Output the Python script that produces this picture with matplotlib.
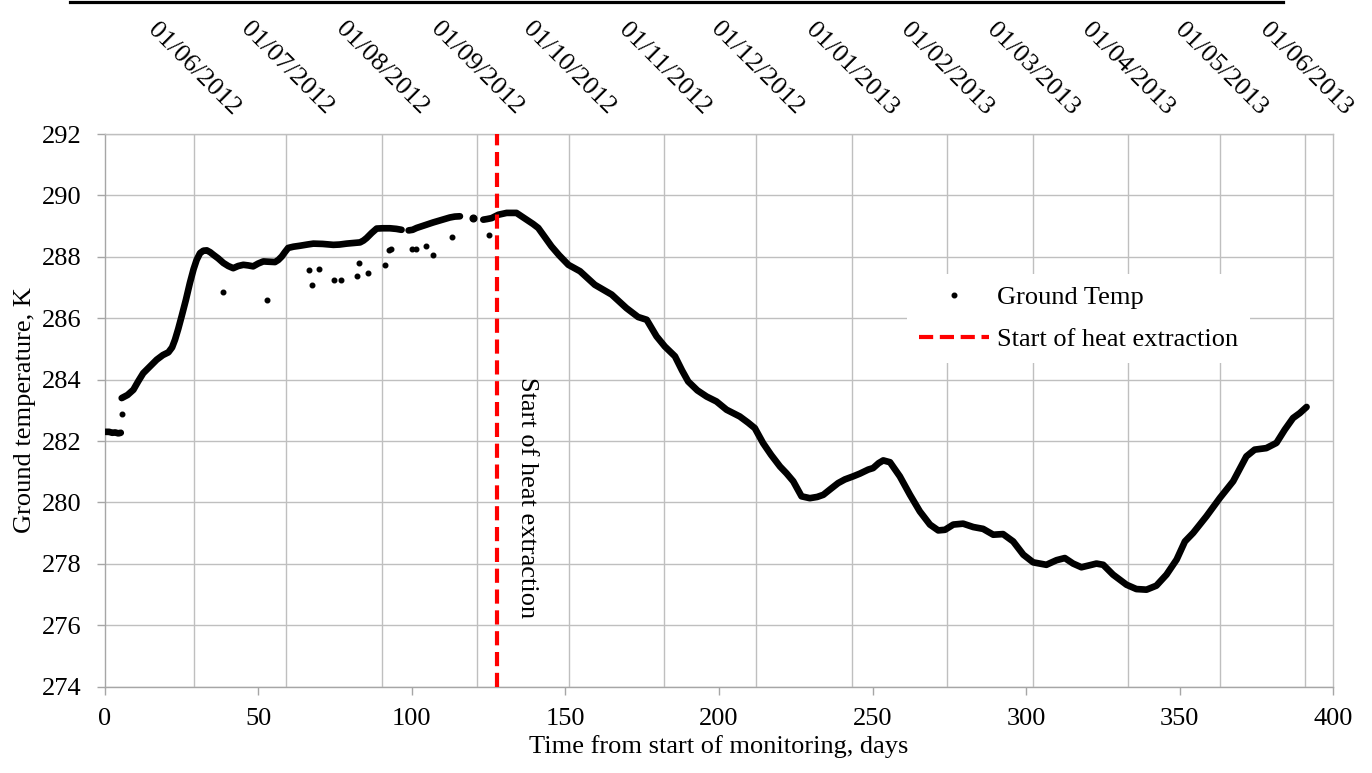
import numpy as np
import matplotlib
matplotlib.use("Agg")
import matplotlib.pyplot as plt
from matplotlib.lines import Line2D
from matplotlib.transforms import blended_transform_factory

plt.rcParams['font.family'] = ['Liberation Serif', 'DejaVu Serif']

# ---- data: ground temperature record (days from start, kelvin) ----
days_start = [0.3, 1.5, 2.5, 3.5, 4.5, 5.3]
temp_start = [282.30, 282.30, 282.27, 282.28, 282.25, 282.27]

days_summer = [5.6, 7.5, 9.4, 11.0, 12.6, 15.0, 17.0, 19.0, 20.8, 22.0, 22.95, 24.0,
               25.1, 26.5, 27.8, 29.0, 30.0, 31.1, 32.2, 33.3, 34.4, 35.4, 37.0, 38.7,
               40.3, 41.9, 43.5, 45.2, 46.8, 48.4, 50.0, 51.7, 53.5, 55.5, 56.6, 57.7,
               58.7, 59.8, 61.5, 63.6, 66.0, 68.0, 71.0, 74.5, 76.5, 78.8, 81.0, 83.2,
               84.3, 85.3, 87.0, 88.6, 90.5, 92.9, 95.0, 96.7]
temp_summer = [283.40, 283.50, 283.67, 283.95, 284.21, 284.45, 284.65, 284.80, 284.89,
               285.05, 285.30, 285.65, 286.06, 286.60, 287.15, 287.60, 287.90, 288.12,
               288.20, 288.21, 288.15, 288.07, 287.95, 287.80, 287.70, 287.63, 287.70,
               287.74, 287.72, 287.69, 287.78, 287.85, 287.84, 287.83, 287.90, 288.01,
               288.15, 288.29, 288.33, 288.36, 288.40, 288.43, 288.42, 288.39, 288.40,
               288.43, 288.45, 288.47, 288.53, 288.61, 288.78, 288.92, 288.93, 288.93,
               288.91, 288.88]

days_autumn = [99.0, 100.3, 101.6, 104.3, 107.0, 109.7, 112.4, 114.0, 115.7]
temp_autumn = [288.86, 288.88, 288.94, 289.03, 289.12, 289.20, 289.28, 289.31, 289.32]

days_lone = [120.0]
temp_lone = [289.26]

days_extract = [123.3, 124.5, 126.0, 128.2, 130.9, 134.1, 137.4, 139.5, 141.2, 143.5,
                145.5, 148.0, 151.0, 154.8, 159.6, 165.1, 169.9, 173.7, 176.5, 179.7,
                182.4, 185.7, 188.0, 190.0, 193.0, 196.0, 199.2, 202.5, 206.8, 209.5,
                211.7, 214.4, 217.0, 219.9, 222.0, 224.2, 226.9, 229.6, 232.0, 234.0,
                236.5, 238.8, 241.0, 243.7, 245.9, 248.6, 250.2, 252.0, 253.5, 255.7,
                258.9, 262.2, 265.4, 268.7, 271.4, 273.6, 276.3, 279.5, 282.8, 286.0,
                289.3, 292.5, 295.8, 299.1, 302.3, 306.6, 309.9, 312.6, 315.3, 318.0,
                320.5, 322.9, 325.1, 328.3, 332.7, 335.9, 339.2, 342.4, 345.7, 349.0,
                351.7, 354.4, 358.7, 363.1, 367.4, 371.7, 374.4, 378.2, 381.5, 384.2,
                386.9, 389.1, 391.3]
temp_extract = [289.21, 289.23, 289.26, 289.37, 289.43, 289.43, 289.21, 289.07, 288.94,
                288.62, 288.34, 288.05, 287.74, 287.53, 287.09, 286.77, 286.33, 286.04,
                285.95, 285.41, 285.08, 284.76, 284.30, 283.94, 283.65, 283.45, 283.29,
                283.02, 282.80, 282.60, 282.42, 281.93, 281.55, 281.17, 280.95, 280.69,
                280.20, 280.14, 280.18, 280.25, 280.45, 280.63, 280.75, 280.85, 280.94,
                281.07, 281.12, 281.28, 281.37, 281.31, 280.85, 280.25, 279.71, 279.28,
                279.09, 279.11, 279.28, 279.31, 279.20, 279.14, 278.95, 278.97, 278.73,
                278.30, 278.05, 277.97, 278.12, 278.19, 278.01, 277.89, 277.95, 278.01,
                277.97, 277.65, 277.32, 277.18, 277.16, 277.29, 277.65, 278.14, 278.73,
                279.01, 279.55, 280.15, 280.69, 281.50, 281.72, 281.77, 281.94, 282.37,
                282.75, 282.91, 283.11]

# scattered single readings below the main trend
days_scatter = [5.6, 38.7, 53.0, 66.7, 67.5, 69.7, 74.7, 76.9, 82.1, 82.9, 85.9, 91.3,
                92.7, 93.1, 100.0, 101.3, 104.6, 106.8, 113.0, 125.0]
temp_scatter = [282.88, 286.84, 286.59, 287.56, 287.09, 287.60, 287.25, 287.25, 287.38,
                287.80, 287.47, 287.72, 288.21, 288.25, 288.26, 288.26, 288.34, 288.05,
                288.63, 288.72]

heat_start_day = 127.8

# month boundaries along the time axis and their calendar labels
month_days = [29.2, 59.2, 90.2, 121.2, 151.2, 182.2, 212.2, 243.2, 274.2, 302.2,
              333.2, 363.2, 390.9]
month_labels = ['01/06/2012', '01/07/2012', '01/08/2012', '01/09/2012', '01/10/2012',
                '01/11/2012', '01/12/2012', '01/01/2013', '01/02/2013', '01/03/2013',
                '01/04/2013', '01/05/2013', '01/06/2013']

x_ticks = [0, 50, 100, 150, 200, 250, 300, 350, 400]
y_ticks = [274, 276, 278, 280, 282, 284, 286, 288, 290, 292]

# ---- figure ----
W, H = 1372, 773
fig = plt.figure(figsize=(W / 100, H / 100), dpi=100)
ax = fig.add_axes([104.5 / W, 1 - 686.7 / H, (1333.3 - 104.5) / W, (686.7 - 134.0) / H])

grid_c = '#BFBFBF'
axis_c = '#A6A6A6'
FS = 19

ax.set_xlim(0, 400)
ax.set_ylim(274, 292)
ax.set_xticks(x_ticks)
ax.set_yticks(y_ticks)
ax.set_xticks(month_days, minor=True)
ax.grid(which='minor', axis='x', color=grid_c, lw=1.0)
ax.grid(which='major', axis='y', color=grid_c, lw=1.0)
ax.grid(which='major', axis='x', visible=False)
ax.set_axisbelow(True)

for side in ['left', 'bottom', 'top', 'right']:
    ax.spines[side].set_color(grid_c if side in ('top', 'right') else axis_c)
    ax.spines[side].set_linewidth(1.0)

ax.tick_params(axis='both', which='major', direction='out', length=5.5, width=1.0,
               color=axis_c, labelsize=FS, labelcolor='black')
ax.tick_params(axis='x', which='major', pad=10)
ax.tick_params(axis='y', which='major', pad=11)
ax.tick_params(axis='x', which='minor', length=0)

# main record
curve_kw = dict(color='black', lw=4.8, solid_capstyle='round', solid_joinstyle='round', zorder=3)
ax.plot(days_start, temp_start, **curve_kw)
ax.plot(days_summer, temp_summer, **curve_kw)
ax.plot(days_autumn, temp_autumn, **curve_kw)
ax.plot(days_extract, temp_extract, **curve_kw)
ax.plot(days_lone, temp_lone, 'o', color='black', ms=4.8, zorder=3)
ax.plot(days_scatter, temp_scatter, 'o', color='black', ms=3.3, ls='none', zorder=3,
        label='Ground Temp')

# start of heat extraction
ax.axvline(heat_start_day, color='#FF0000', lw=3.0, dashes=(3.4, 1.6), zorder=4,
           label='Start of heat extraction')
ax.text(137.4, 280.16, 'Start of heat extraction', rotation=-90, ha='center',
        va='center', fontsize=FS, color='black')

# calendar labels above the plot
tr = blended_transform_factory(ax.transData, ax.transAxes)
for d, lab in zip(month_days, month_labels):
    ax.text(d, 1.118, lab, transform=tr, rotation=-45, ha='center', va='center',
            fontsize=FS, color='black', clip_on=False)

ax.set_xlabel('Time from start of monitoring, days', fontsize=FS)
ax.set_ylabel('Ground temperature, K', fontsize=FS)
ax.xaxis.set_label_coords(0.5, -0.088)
ax.yaxis.set_label_coords(-0.056, 0.5)

leg = ax.legend(loc='center', bbox_to_anchor=(1078.5 / W, 1 - 318.5 / H),
                bbox_transform=fig.transFigure, fontsize=FS, frameon=True,
                fancybox=False, edgecolor='none', facecolor='white', framealpha=1,
                handlelength=2.65, handletextpad=0.3, labelspacing=0.7,
                borderpad=0.45, numpoints=1)

# rule across the top of the page
fig.add_artist(Line2D([70 / W, 1283 / W], [1 - 2.2 / H, 1 - 2.2 / H],
                      color='black', lw=2.3, transform=fig.transFigure))

fig.savefig('out.png', dpi=100)
